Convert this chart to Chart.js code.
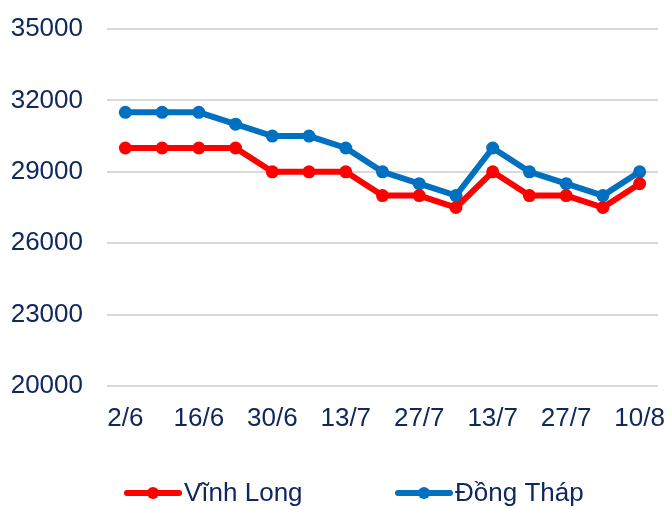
<!DOCTYPE html>
<html>
<head>
<meta charset="utf-8">
<script src="https://cdn.jsdelivr.net/npm/chart.js@4.4.1/dist/chart.umd.min.js"></script>
<style>
  html, body { margin: 0; padding: 0; background: #fff; }
  #wrap { width: 671px; height: 510px; }
</style>
</head>
<body>
<div id="wrap"><canvas id="c"></canvas></div>
<script>
// --- Data ---
const dates = ['2/6', '', '16/6', '', '30/6', '', '13/7', '', '27/7', '', '13/7', '', '27/7', '', '10/8'];
const vinhLong = [30000, 30000, 30000, 30000, 29000, 29000, 29000, 28000, 28000, 27500, 29000, 28000, 28000, 27500, 28500];
const dongThap = [31500, 31500, 31500, 31000, 30500, 30500, 30000, 29000, 28500, 28000, 30000, 29000, 28500, 28000, 29000];
const yTicks = [20000, 23000, 26000, 29000, 32000, 35000];

const textColor = '#0f2860';
const font = { family: "'Liberation Sans', Arial, sans-serif", size: 26 };

// legend drawn as line + marker, like the original
const lineLegend = {
    id: 'lineLegend',
    afterDraw(chart) {
        const ctx = chart.ctx;
        const y = 493;
        const starts = [125, 396];
        ctx.save();
        chart.data.datasets.forEach((ds, i) => {
            const x = starts[i];
            ctx.strokeStyle = ds.borderColor;
            ctx.lineWidth = 6;
            ctx.lineCap = 'round';
            ctx.beginPath();
            ctx.moveTo(x + 2, y);
            ctx.lineTo(x + 54, y);
            ctx.stroke();
            ctx.fillStyle = ds.borderColor;
            ctx.beginPath();
            ctx.arc(x + 28, y, 6, 0, Math.PI * 2);
            ctx.fill();
            ctx.fillStyle = textColor;
            ctx.font = `${font.size}px ${font.family}`;
            ctx.textBaseline = 'middle';
            ctx.fillText(ds.label, x + 59, y + 1);
        });
        ctx.restore();
    }
};

new Chart(document.getElementById('c'), {
    type: 'line',
    data: {
        labels: dates,
        datasets: [
            { label: 'Vĩnh Long', data: vinhLong, borderColor: '#ff0000', backgroundColor: '#ff0000' },
            { label: 'Đồng Tháp', data: dongThap, borderColor: '#0070c0', backgroundColor: '#0070c0' }
        ]
    },
    options: {
        responsive: true,
        maintainAspectRatio: false,
        animation: false,
        layout: { padding: { left: 10, right: 13, top: 29, bottom: 78 } },
        elements: {
            line: { borderWidth: 6, tension: 0 },
            point: { radius: 6.5, borderWidth: 0, hoverRadius: 7 }
        },
        plugins: {
            legend: { display: false },
            tooltip: { enabled: false }
        },
        scales: {
            x: {
                offset: true,
                grid: { display: false, drawTicks: true, tickLength: 17 },
                border: { display: false },
                ticks: { color: textColor, font, padding: 0, autoSkip: false, maxRotation: 0 },
                afterFit(scale) { scale.height = 46; }
            },
            y: {
                min: 20000,
                max: 35000,
                afterBuildTicks(scale) { scale.ticks = yTicks.map(v => ({ value: v })); },
                grid: { color: '#d9d9d9', lineWidth: 2, drawTicks: false },
                border: { display: false },
                ticks: { color: textColor, font, padding: 24, callback: v => String(v) },
                afterFit(scale) {
                    scale.width = 97;
                    scale.paddingTop = 0;
                    scale.paddingBottom = 0;
                }
            }
        }
    },
    plugins: [lineLegend]
});
</script>
</body>
</html>
